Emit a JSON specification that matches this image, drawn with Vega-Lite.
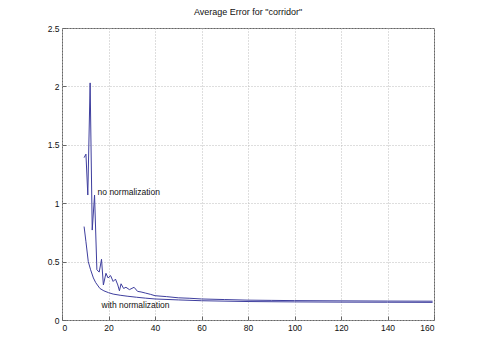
{
  "$schema": "https://vega.github.io/schema/vega-lite/v6.json",
  "width": 372,
  "height": 292,
  "autosize": {"type": "none"},
  "padding": {"left": 62, "top": 28, "right": 46, "bottom": 40},
  "background": "white",
  "title": {"text": "Average Error for \"corridor\"", "fontSize": 9, "fontWeight": "normal", "font": "Liberation Sans", "color": "#111", "offset": 7},
  "config": {
    "view": {"stroke": "#666", "strokeWidth": 1},
    "axis": {
      "labelFont": "Liberation Sans", "labelFontSize": 8.5, "labelColor": "#111",
      "domain": false, "tickSize": -4, "tickColor": "#666", "labelPadding": 7,
      "grid": true, "gridDash": [1, 2], "gridColor": "#bdbdbd", "gridWidth": 1,
      "title": null
    }
  },
  "datasets": {
    "curves": [
      {"x": 9.5, "y": 1.39, "s": "no"}, {"x": 10.3, "y": 1.42, "s": "no"}, {"x": 11.1, "y": 1.07, "s": "no"},
      {"x": 12.1, "y": 2.03, "s": "no"}, {"x": 13, "y": 0.77, "s": "no"}, {"x": 14, "y": 1.07, "s": "no"},
      {"x": 15, "y": 0.43, "s": "no"}, {"x": 16, "y": 0.41, "s": "no"}, {"x": 17, "y": 0.52, "s": "no"},
      {"x": 17.8, "y": 0.3, "s": "no"}, {"x": 18.9, "y": 0.4, "s": "no"}, {"x": 19.8, "y": 0.36, "s": "no"},
      {"x": 20.9, "y": 0.38, "s": "no"}, {"x": 22, "y": 0.33, "s": "no"}, {"x": 23, "y": 0.35, "s": "no"},
      {"x": 24, "y": 0.3, "s": "no"}, {"x": 24.7, "y": 0.25, "s": "no"}, {"x": 25.4, "y": 0.31, "s": "no"},
      {"x": 26.5, "y": 0.27, "s": "no"}, {"x": 27.5, "y": 0.28, "s": "no"}, {"x": 29, "y": 0.26, "s": "no"},
      {"x": 31, "y": 0.28, "s": "no"}, {"x": 32.5, "y": 0.245, "s": "no"}, {"x": 34, "y": 0.24, "s": "no"},
      {"x": 36, "y": 0.23, "s": "no"}, {"x": 38, "y": 0.22, "s": "no"}, {"x": 40, "y": 0.208, "s": "no"},
      {"x": 45, "y": 0.2, "s": "no"}, {"x": 50, "y": 0.19, "s": "no"}, {"x": 55, "y": 0.186, "s": "no"},
      {"x": 60, "y": 0.18, "s": "no"}, {"x": 70, "y": 0.175, "s": "no"}, {"x": 80, "y": 0.17, "s": "no"},
      {"x": 90, "y": 0.168, "s": "no"}, {"x": 100, "y": 0.166, "s": "no"}, {"x": 120, "y": 0.164, "s": "no"},
      {"x": 140, "y": 0.162, "s": "no"}, {"x": 159.4, "y": 0.161, "s": "no"},
      {"x": 9.5, "y": 0.8, "s": "with"}, {"x": 10.3, "y": 0.67, "s": "with"}, {"x": 11.3, "y": 0.5, "s": "with"},
      {"x": 12.3, "y": 0.43, "s": "with"}, {"x": 13.5, "y": 0.36, "s": "with"}, {"x": 14.5, "y": 0.32, "s": "with"},
      {"x": 16.3, "y": 0.27, "s": "with"}, {"x": 18, "y": 0.25, "s": "with"}, {"x": 20, "y": 0.234, "s": "with"},
      {"x": 22, "y": 0.222, "s": "with"}, {"x": 25, "y": 0.212, "s": "with"}, {"x": 28, "y": 0.204, "s": "with"},
      {"x": 32, "y": 0.195, "s": "with"}, {"x": 36, "y": 0.187, "s": "with"}, {"x": 40, "y": 0.18, "s": "with"},
      {"x": 50, "y": 0.172, "s": "with"}, {"x": 60, "y": 0.165, "s": "with"}, {"x": 80, "y": 0.158, "s": "with"},
      {"x": 100, "y": 0.155, "s": "with"}, {"x": 120, "y": 0.153, "s": "with"}, {"x": 140, "y": 0.152, "s": "with"},
      {"x": 159.4, "y": 0.151, "s": "with"}
    ],
    "labels": [
      {"x": 15.3, "y": 1.1, "t": "no normalization"},
      {"x": 17, "y": 0.13, "t": "with normalization"}
    ]
  },
  "layer": [
    {
      "data": {"name": "curves"},
      "mark": {"type": "line", "color": "#3e3e9e", "strokeWidth": 1},
      "encoding": {
        "x": {"field": "x", "type": "quantitative", "scale": {"domain": [0, 160], "nice": false}, "axis": {"values": [0, 20, 40, 60, 80, 100, 120, 140, 160], "format": "d"}},
        "y": {"field": "y", "type": "quantitative", "scale": {"domain": [0, 2.5], "nice": false}, "axis": {"values": [0, 0.5, 1, 1.5, 2, 2.5], "format": "~g"}},
        "detail": {"field": "s"}
      }
    },
    {
      "data": {"name": "labels"},
      "mark": {"type": "text", "align": "left", "baseline": "middle", "font": "Liberation Sans", "fontSize": 8.5, "color": "#111"},
      "encoding": {
        "x": {"field": "x", "type": "quantitative"},
        "y": {"field": "y", "type": "quantitative"},
        "text": {"field": "t"}
      }
    }
  ]
}
